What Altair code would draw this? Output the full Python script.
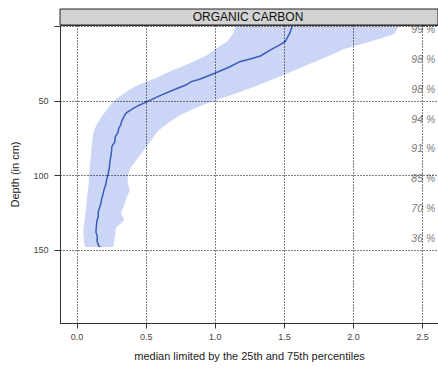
import altair as alt
import pandas as pd

# ---- data ----
band_depth = [0, 5, 10, 15, 20, 25, 30, 35, 40, 45, 50, 55, 60, 65, 70, 75, 80, 85, 90, 95,
              100, 105, 110, 115, 120, 125, 130, 135, 140, 145, 148]
p25 = [1.15, 1.13, 1.09, 1.01, 0.93, 0.81, 0.68, 0.56, 0.43, 0.34, 0.27, 0.225, 0.185, 0.15,
       0.125, 0.115, 0.11, 0.105, 0.10, 0.095, 0.09, 0.088, 0.082, 0.075, 0.07, 0.065, 0.058,
       0.05, 0.05, 0.055, 0.06]
p75 = [2.33, 2.30, 2.13, 1.94, 1.82, 1.69, 1.56, 1.43, 1.30, 1.15, 0.99, 0.85, 0.74, 0.66,
       0.59, 0.55, 0.51, 0.47, 0.43, 0.39, 0.37, 0.37, 0.385, 0.36, 0.345, 0.32, 0.345, 0.285,
       0.28, 0.27, 0.265]

med_depth = [0, 5, 10, 12.4, 15.8, 19.8, 22, 23.6, 27, 31.4, 35.4, 37, 39.3, 42.6, 46.6, 50.4,
             53, 55, 58, 60, 63.9, 66, 68.3, 71, 74, 77.3, 80.7, 84, 87, 90.7, 94, 98.5, 103,
             106.4, 109, 112, 116.4, 118.7, 121, 124.3, 127.6, 130, 134, 138, 141, 144, 147, 148]
med_val = [1.56, 1.54, 1.51, 1.47, 1.40, 1.33, 1.25, 1.18, 1.11, 1.00, 0.89, 0.83, 0.79, 0.70,
           0.60, 0.51, 0.45, 0.41, 0.36, 0.345, 0.325, 0.32, 0.305, 0.30, 0.28, 0.277, 0.255,
           0.253, 0.248, 0.241, 0.238, 0.229, 0.217, 0.21, 0.20, 0.193, 0.18, 0.176, 0.168,
           0.157, 0.157, 0.148, 0.143, 0.14, 0.15, 0.148, 0.16, 0.17]

pct_depth = [2.5, 22.5, 42.5, 62.5, 82.5, 102.5, 122.5, 142.5]
pct_text = ["99 %", "98 %", "98 %", "94 %", "91 %", "85 %", "70 %", "36 %"]

x_ticks = [0.0, 0.5, 1.0, 1.5, 2.0, 2.5]
y_ticks = [0, 50, 100, 150]
panel_title = "ORGANIC CARBON"

# ---- chart ----
W, H = 378, 298
band_df = pd.DataFrame({"depth": band_depth, "p25": p25, "p75": p75})
med_df = pd.DataFrame({"depth": med_depth, "median": med_val})
lab_df = pd.DataFrame({"depth": pct_depth, "label": pct_text})

xscale = alt.Scale(domain=[-0.12, 2.615], nice=False, zero=False)
yscale = alt.Scale(domain=[-1, 199], reverse=True, nice=False, zero=False)

xaxis = alt.Axis(values=x_ticks, format=".1f",
                 title="median limited by the 25th and 75th percentiles",
                 grid=True, gridDash=[1, 2], gridColor="#000", gridOpacity=1, gridWidth=1,
                 tickSize=5, tickColor="#333", domainColor="#333",
                 labelFontSize=9, labelColor="#444", labelPadding=4,
                 titleFontSize=11, titleFontWeight="normal", titleColor="#222",
                 titlePadding=9, zindex=1)
yaxis = alt.Axis(values=y_ticks, labelExpr="datum.value == 0 ? '' : datum.label",
                 title="Depth (in cm)",
                 grid=True, gridDash=[1, 2], gridColor="#000", gridOpacity=1, gridWidth=1,
                 tickSize=6, tickColor="#333", domainColor="#333",
                 labelFontSize=9, labelColor="#444", labelPadding=6,
                 titleFontSize=11, titleFontWeight="normal", titleColor="#222",
                 titlePadding=12, zindex=1)

band = alt.Chart(band_df).mark_area(orient="horizontal", color="#cbd5f6", opacity=1).encode(
    y=alt.Y("depth:Q", scale=yscale, axis=yaxis),
    x=alt.X("p25:Q", scale=xscale, axis=xaxis),
    x2="p75:Q",
)

line = alt.Chart(med_df).mark_line(color="#3a5cb8", strokeWidth=1.5).encode(
    y=alt.Y("depth:Q", scale=yscale),
    x=alt.X("median:Q", scale=xscale),
    order="depth:Q",
)

labels = alt.Chart(lab_df).mark_text(align="right", baseline="middle", fontSize=10.5,
                                     fontStyle="italic", color="#7a7a7a").encode(
    y=alt.Y("depth:Q", scale=yscale),
    x=alt.datum(2.595),
    text="label:N",
)

strip = alt.Chart(pd.DataFrame({"t": [panel_title]})).mark_rect(
    fill="#d3d3d3", stroke="#222", strokeWidth=1).encode(
    x=alt.value(0), x2=alt.value(W), y=alt.value(-16), y2=alt.value(0))

strip_text = alt.Chart(pd.DataFrame({"t": [panel_title]})).mark_text(
    fontSize=12, color="#111", baseline="middle", align="center").encode(
    x=alt.value(W / 2 - 1), y=alt.value(-8), text="t:N")

chart = alt.layer(band, line, labels, strip, strip_text).properties(
    width=W, height=H,
    autosize=alt.AutoSizeParams(type="none"),
    padding={"left": 60, "top": 25, "right": 0, "bottom": 47},
).configure(font="Liberation Sans", background="white").configure_view(
    stroke="#444", strokeWidth=1)

chart.save("out.html", embed_options={"renderer": "svg", "actions": False})
